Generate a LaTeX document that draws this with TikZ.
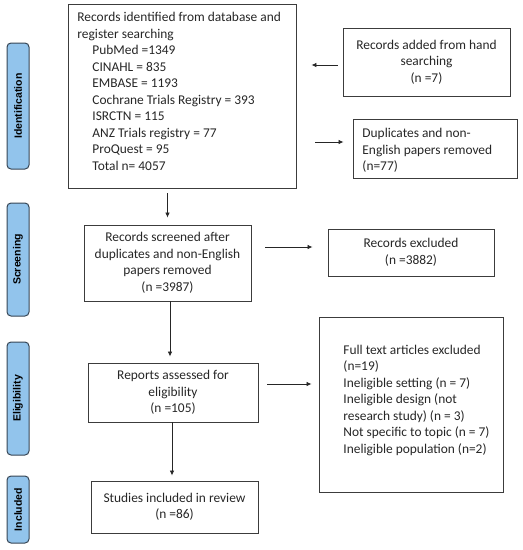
\documentclass[tikz,border=0pt]{standalone}
\usepackage{fontspec}
\setmainfont{Carlito}
\newfontfamily\sidefont{Liberation Sans}
\usetikzlibrary{arrows.meta}
\definecolor{sidefill}{RGB}{146,196,236}
\definecolor{sidedraw}{RGB}{55,70,85}
\definecolor{boxdraw}{RGB}{60,60,60}
\tikzset{
  box/.style={draw=boxdraw, line width=0.9pt, inner sep=0pt, font=\fontsize{13.4}{16.5}\selectfont, text=black!85},
  side/.style={draw=sidedraw, fill=sidefill, line width=1pt, rounded corners=4pt, minimum width=22pt, inner sep=0pt},
  sidelabel/.style={rotate=90, font=\sidefont\bfseries\fontsize{10.5}{12}\selectfont},
  arr/.style={-{Latex[length=5pt,width=4.5pt]}, line width=0.8pt, draw=black!85}
}
\begin{document}
\begin{tikzpicture}[x=1pt,y=-1pt]
\useasboundingbox (0,0) rectangle (523,550);
% sidebars
\node[side, minimum height=126pt] (sid) at (18,106) {};
\node[sidelabel] (lid) at (sid.center) {Identification};
\node[side, minimum height=113pt] (ssc) at (18,259.5) {};
\node[sidelabel] (lsc) at (ssc.center) {Screening};
\node[side, minimum height=113pt] (sel) at (18,398.5) {};
\node[sidelabel] (lel) at (sel.center) {Eligibility};
\node[side, minimum height=67pt] (sin) at (18,509.5) {};
\node[sidelabel] (lin) at (sin.center) {Included};
% boxes
\node[box, minimum width=228pt, minimum height=184pt] (main) at (182,96) {};
\node[box, draw=none, anchor=north west, align=left] (maintext) at (77,12) {Records identified from database and\\register searching\\
\hspace{15pt}PubMed =1349\\
\hspace{15pt}CINAHL = 835\\
\hspace{15pt}EMBASE = 1193\\
\hspace{15pt}Cochrane Trials Registry = 393\\
\hspace{15pt}ISRCTN = 115\\
\hspace{15pt}ANZ Trials registry = 77\\
\hspace{15pt}ProQuest = 95\\
\hspace{15pt}Total n= 4057};
\node[box, minimum width=167pt, minimum height=68pt, align=center] (hand) at (426.5,62) {Records added from hand\\searching\\(n =7)};
\node[box, minimum width=164pt, minimum height=59pt] (dup) at (435,148.5) {};
\node[box, draw=none, anchor=west, align=left] (duptext) at (362,150.5) {Duplicates and non-\\English papers removed\\(n=77)};
\node[box, minimum width=167pt, minimum height=76pt, align=center] (scr) at (167.5,263) {Records screened after\\duplicates and non-English\\papers removed\\(n =3987)};
\node[box, minimum width=166pt, minimum height=47pt, align=center] (exc) at (411,252.5) {Records excluded\\(n =3882)};
\node[box, minimum width=170pt, minimum height=59pt, align=center] (rep) at (173,392.5) {Reports assessed for\\eligibility\\(n =105)};
\node[box, minimum width=184pt, minimum height=175pt] (full) at (411,404.5) {};
\node[box, draw=none, anchor=west, align=left] (fulltext) at (343,400) {Full text articles excluded\\(n=19)\\Ineligible setting (n = 7)\\Ineligible design (not\\research study) (n = 3)\\Not specific to topic (n = 7)\\Ineligible population (n=2)};
\node[box, minimum width=167pt, minimum height=52pt, align=center] (stu) at (174.5,507) {Studies included in review\\(n =86)};
% arrows
\draw[arr, shorten <=5pt, shorten >=15pt] ([yshift=-3pt]hand.west) -- ([yshift=-3pt]hand.west -| main.east);
\draw[arr, shorten <=19pt, shorten >=9pt] ([yshift=6.5pt]dup.west -| main.east) -- ([yshift=6.5pt]dup.west);
\draw[arr, shorten <=5pt, shorten >=7pt] (main.south -| scr.north) -- (scr.north);
\draw[arr, shorten <=14pt, shorten >=15pt] ([yshift=5.5pt]exc.west -| scr.east) -- ([yshift=5.5pt]exc.west);
\draw[arr, shorten >=6pt] ([xshift=2.5pt]scr.south) -- ([xshift=2.5pt]scr.south |- rep.north);
\draw[arr, shorten <=9pt, shorten >=7pt] ([yshift=8.5pt]rep.east) -- ([yshift=8.5pt]rep.east -| full.west);
\draw[arr, shorten >=5pt] ([xshift=-1pt]rep.south) -- ([xshift=-1pt]rep.south |- stu.north);
\end{tikzpicture}
\end{document}
